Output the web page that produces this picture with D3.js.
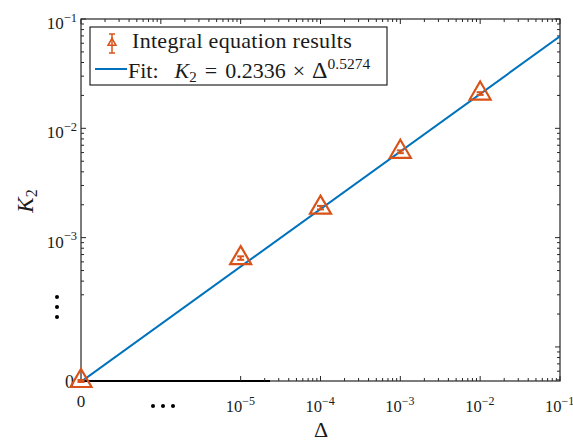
<!DOCTYPE html>
<html>
<head>
<meta charset="utf-8">
<script src="https://cdn.jsdelivr.net/npm/d3@7"></script>
<style>
  body { margin: 0; background: #fff; }
</style>
</head>
<body>
<svg id="chart" width="573" height="441"></svg>
<script>
// data (0 stands for the broken "0" end of each axis)
const deltas = [0, 1e-5, 1e-4, 1e-3, 1e-2];
const k2Values = [0, 6.5e-4, 1.88e-3, 6.1e-3, 2.08e-2];
const k2Errors = [0, 1e-5, 3e-5, 5e-5, 1.5e-4];
const fitDelta = [1e-7, 1e-1];
const fitK2 = [4.8e-5, 6.94e-2];
const xTickValues = [1e-5, 1e-4, 1e-3, 1e-2, 1e-1];
const xTickLabels = ["\u22125", "\u22124", "\u22123", "\u22122", "\u22121"];
const yTickValues = [1e-3, 1e-2, 1e-1];
const yTickLabels = ["\u22123", "\u22122", "\u22121"];

const red = '#D95319';
const blue = '#0072BD';
const axisColor = '#262626';
const textColor = '#1a1a1a';
const serif = 'Liberation Serif';

const svg = d3.select('#chart')
  .attr('font-family', serif)
  .attr('fill', textColor);

const x = d3.scaleLog().domain([1e-7, 1e-1]).range([81, 560]);
const y = d3.scaleLog().domain([4.88e-5, 1e-1]).range([381, 19]);
const px = d => d === 0 ? x.range()[0] : x(d);
const py = d => d === 0 ? y.range()[0] : y(d);
const isMajor = v => Math.abs(Math.log10(v) - Math.round(Math.log10(v))) < 1e-6;

const [x0, x1] = x.range();
const [y0, y1] = y.range();

svg.append('defs').append('clipPath').attr('id', 'plot')
  .append('rect').attr('x', x0).attr('y', y1).attr('width', x1 - x0).attr('height', y0 - y1);

// frame
svg.append('rect')
  .attr('x', x0).attr('y', y1).attr('width', x1 - x0).attr('height', y0 - y1)
  .attr('fill', 'none').attr('stroke', axisColor).attr('stroke-width', 1.2);

// darker stub of the bottom axis near 0
svg.append('line')
  .attr('x1', x0).attr('x2', 270).attr('y1', y0).attr('y2', y0)
  .attr('stroke', '#000').attr('stroke-width', 2);

// ticks
const ticks = svg.append('g').attr('stroke', axisColor).attr('stroke-width', 1);
const tl = v => isMajor(v) ? 5 : 3;

ticks.selectAll('.tt').data(x.ticks()).join('line')
  .attr('x1', d => x(d)).attr('x2', d => x(d))
  .attr('y1', y1).attr('y2', d => y1 + tl(d));
ticks.selectAll('.tb').data(x.ticks().filter(v => v >= 1e-5)).join('line')
  .attr('x1', d => x(d)).attr('x2', d => x(d))
  .attr('y1', y0).attr('y2', d => y0 - tl(d));
ticks.selectAll('.tl').data(y.ticks().filter(v => v >= 3e-4)).join('line')
  .attr('y1', d => y(d)).attr('y2', d => y(d))
  .attr('x1', x0).attr('x2', d => x0 + tl(d));
ticks.selectAll('.tr').data(y.ticks()).join('line')
  .attr('y1', d => y(d)).attr('y2', d => y(d))
  .attr('x1', x1).attr('x2', d => x1 - tl(d));

// tick labels
const xl = svg.append('g').selectAll('text').data(xTickValues).join('text')
  .attr('x', d => x(d) - 15).attr('y', 412).attr('font-size', 16.5);
xl.append('tspan').text('10');
xl.append('tspan').attr('dy', -7).attr('font-size', 12).text((d, i) => xTickLabels[i]);

const yl = svg.append('g').selectAll('text').data(yTickValues).join('text')
  .attr('x', 77).attr('y', d => y(d) + 10)
  .attr('text-anchor', 'end').attr('font-size', 17);
yl.append('tspan').text('10');
yl.append('tspan').attr('dy', -7.5).attr('font-size', 12.5).text((d, i) => yTickLabels[i]);

svg.append('text').attr('x', px(0)).attr('y', 407)
  .attr('text-anchor', 'middle').attr('font-size', 17).text('0');
svg.append('text').attr('x', 74).attr('y', py(0) + 7)
  .attr('text-anchor', 'end').attr('font-size', 18).text('0');

// break dots
svg.append('g').selectAll('circle').data([153, 163, 173]).join('circle')
  .attr('cx', d => d).attr('cy', 406).attr('r', 2).attr('fill', '#000');
svg.append('g').selectAll('circle').data([297, 307, 317]).join('circle')
  .attr('cx', 57).attr('cy', d => d).attr('r', 2).attr('fill', '#000');

// axis titles
svg.append('text').attr('x', 321).attr('y', 437)
  .attr('text-anchor', 'middle').attr('font-size', 22).text('Δ');
const yt = svg.append('text')
  .attr('transform', 'translate(33,201) rotate(-90)')
  .attr('text-anchor', 'middle').attr('font-size', 23);
yt.append('tspan').attr('font-style', 'italic').text('K');
yt.append('tspan').attr('dy', 4).attr('font-size', 16).text('2');

// fit line
const plot = svg.append('g').attr('clip-path', 'url(#plot)');
plot.append('path')
  .datum(d3.zip(fitDelta, fitK2))
  .attr('d', d3.line().x(d => x(d[0])).y(d => y(d[1])))
  .attr('fill', 'none').attr('stroke', blue).attr('stroke-width', 2);

// markers with error bars
const tri = (cx, cy, h, w) =>
  `M${cx},${cy - 2 * h / 3}L${cx + w / 2},${cy + h / 3}L${cx - w / 2},${cy + h / 3}Z`;
const pts = svg.append('g').selectAll('g').data(deltas.map((d, i) => ({
  d, v: k2Values[i], e: k2Errors[i]
}))).join('g');
pts.append('path')
  .attr('d', p => tri(px(p.d), py(p.v), 18, 21))
  .attr('fill', 'none').attr('stroke', red).attr('stroke-width', 2.2);
pts.each(function (p) {
  const g = d3.select(this);
  const cx = px(p.d);
  const top = p.v === 0 ? py(0) - 1 : y(p.v + p.e) - 1;
  const bot = p.v === 0 ? py(0) + 1 : y(p.v - p.e) + 1;
  g.append('line').attr('x1', cx).attr('x2', cx).attr('y1', top).attr('y2', bot)
    .attr('stroke', red).attr('stroke-width', 2);
  [top, bot].forEach(yy => g.append('line')
    .attr('x1', cx - 3.5).attr('x2', cx + 3.5).attr('y1', yy).attr('y2', yy)
    .attr('stroke', red).attr('stroke-width', 2));
});

// legend
const lg = svg.append('g');
lg.append('rect').attr('x', 90).attr('y', 27).attr('width', 297).attr('height', 58)
  .attr('fill', '#fff').attr('stroke', axisColor).attr('stroke-width', 1.2);
lg.append('path').attr('d', tri(112, 43, 7, 8))
  .attr('fill', 'none').attr('stroke', red).attr('stroke-width', 1.5);
lg.append('line').attr('x1', 112).attr('x2', 112).attr('y1', 34).attr('y2', 53)
  .attr('stroke', red).attr('stroke-width', 1.5);
[34, 53].forEach(yy => lg.append('line').attr('x1', 109).attr('x2', 115)
  .attr('y1', yy).attr('y2', yy).attr('stroke', red).attr('stroke-width', 1.5));
lg.append('text').attr('x', 132).attr('y', 48).attr('font-size', 22)
  .attr('letter-spacing', 0.3).text('Integral equation results');
lg.append('line').attr('x1', 95).attr('x2', 127).attr('y1', 69).attr('y2', 69)
  .attr('stroke', blue).attr('stroke-width', 2);

// fit formula
const ft = lg.append('text').attr('x', 128).attr('y', 78).attr('font-size', 22);
ft.append('tspan').text('Fit:');
ft.append('tspan').attr('dx', 16).attr('font-style', 'italic').text('K');
ft.append('tspan').attr('dy', 4).attr('font-size', 15).text('2');
ft.append('tspan').attr('dx', 8).attr('dy', -4).text('=');
ft.append('tspan').attr('dx', 8).text('0.2336');
ft.append('tspan').attr('dx', 7).text('×');
ft.append('tspan').attr('dx', 7).attr('font-size', 24).text('Δ');
ft.append('tspan').attr('dy', -9).attr('font-size', 15.5).text('0.5274');
</script>
</body>
</html>
